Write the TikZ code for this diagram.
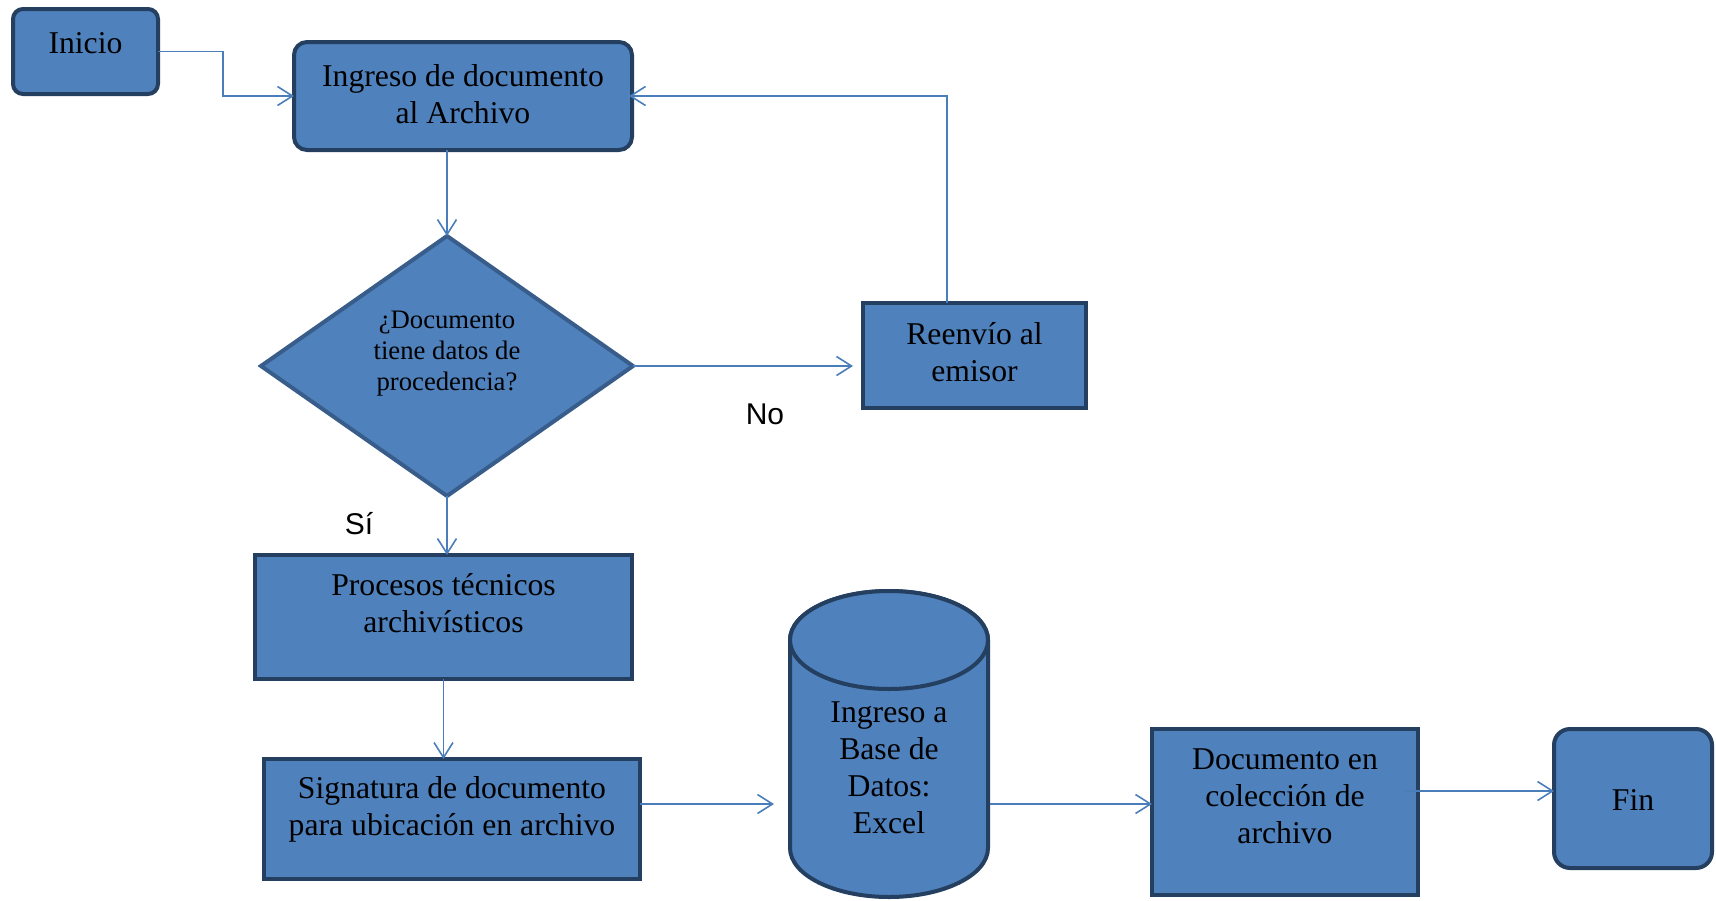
\documentclass[tikz,border=0pt]{standalone}
\usepackage{fontspec}
\setmainfont{Liberation Serif}
\newfontfamily\labelfont{Liberation Sans}
\usetikzlibrary{arrows.meta}
\definecolor{boxfill}{HTML}{4F81BD}
\definecolor{boxedge}{HTML}{243F60}
\definecolor{diaedge}{HTML}{385D8A}
\definecolor{connc}{HTML}{4A7EBB}
\tikzset{
  box/.style={draw=boxedge, fill=boxfill, line width=4pt, inner sep=0pt, outer sep=0pt},
  sharpbox/.style={box},
  roundbox/.style={box, rounded corners=12pt},
  ghost/.style={inner sep=0pt, outer sep=0pt},
  txt/.style={align=center, font=\fontsize{31.7}{37}\selectfont, inner sep=0pt, text=black},
  smalltxt/.style={align=center, font=\fontsize{26.7}{31}\selectfont, inner sep=0pt, text=black},
  lbl/.style={font=\labelfont\fontsize{30}{34}\selectfont, inner sep=0pt, text=black},
  conn/.style={draw=connc, line width=1.6pt, -{Straight Barb[length=15pt,width=19pt,line width=1.6pt]}}
}
\begin{document}
\begin{tikzpicture}[x=1pt,y=-1pt]
\useasboundingbox (0,0) rectangle (1716,900);
\fill[white] (0,0) rectangle (1716,900);

% boxes
\node[roundbox, rounded corners=10pt, minimum width=145pt, minimum height=85pt] (ini) at (85.5,51.5) {};
\node[txt] at (85.5,43) {Inicio};

\node[roundbox, rounded corners=13pt, minimum width=338pt, minimum height=108pt] (ing) at (463,96) {};
\node[txt] at (463,94) {Ingreso de documento\\al Archivo};

\node[ghost, minimum width=372pt, minimum height=260pt] (dec) at (447,366) {};
\draw[box, draw=diaedge, line join=miter] (dec.north) -- (dec.east) -- (dec.south) -- (dec.west) -- cycle;
\node[smalltxt] at (447,354) {¿Documento\\tiene datos de\\procedencia?};

\node[sharpbox, minimum width=223pt, minimum height=105pt] (reen) at (974.5,355.5) {};
\node[txt] at (974.5,352) {Reenvío al\\emisor};

\node[sharpbox, minimum width=377pt, minimum height=124pt] (proc) at (443.5,617) {};
\node[txt] at (443.5,603) {Procesos técnicos\\archivísticos};

\node[sharpbox, minimum width=376pt, minimum height=120pt] (sig) at (452,819) {};
\node[txt] at (452,809) {Signatura de documento\\para ubicación en archivo};

\node[ghost, minimum width=202pt, minimum height=308pt] (db) at (889,744) {};
\path[box] (790,640) -- (790,848) arc[start angle=180, end angle=360, x radius=99pt, y radius=49pt]
  -- (988,640) arc[start angle=0, end angle=180, x radius=99pt, y radius=49pt] -- cycle;
\draw[box] (889,640) ellipse [x radius=99pt, y radius=49pt];
\node[txt] at (889,768) {Ingreso a\\Base de\\Datos:\\Excel};

\node[sharpbox, minimum width=266pt, minimum height=166pt] (doc) at (1285,812) {};
\node[txt] at (1285,796) {Documento en\\colección de\\archivo};

\node[roundbox, rounded corners=16pt, minimum width=158pt, minimum height=139pt] (fin) at (1633,798.5) {};
\node[txt] at (1633,800) {Fin};

% labels
\node[lbl] (no) at (765,414) {No};
\node[lbl] (si) at (359,524) {Sí};

% connectors
\draw[conn] (ini.east) -- ++(65,0) |- (ing.west);
\draw[conn] (ing.south -| dec.north) -- (dec.north);
\draw[conn, shorten >=10pt] (dec.east) -- (dec.east -| reen.west);
\draw[conn, shorten >=-3pt] ([xshift=-27.5pt]reen.north) |- (ing.east);
\draw[conn] (dec.south) -- (dec.south |- proc.north);
\draw[conn] (proc.south) -- (proc.south |- sig.north);
\draw[conn, shorten >=14pt] ([yshift=15pt]sig.east) -- ([yshift=15pt]sig.east -| db.west);
\draw[conn] ([yshift=-60pt]db.east) -- ([yshift=-60pt]db.east -| doc.west);
\draw[conn, shorten <=-14pt] ([yshift=21pt]doc.east) -- ([yshift=21pt]doc.east -| fin.west);
\end{tikzpicture}
\end{document}
